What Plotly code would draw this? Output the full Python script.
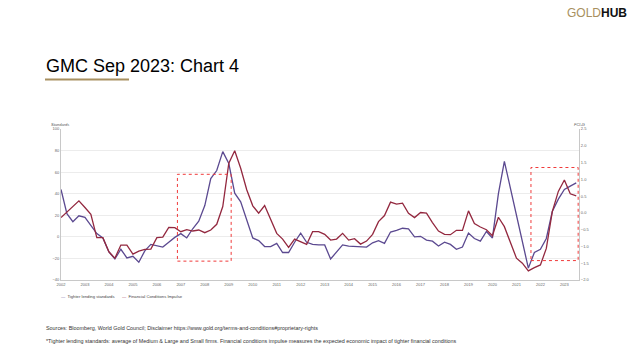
import pandas as pd
import plotly.graph_objects as go

quarters = pd.date_range("2002-01-01", periods=87, freq="QS")

tighter_lending_standards = [
    44, 21.5, 14, 19.5,
    18, 11, 3, -1,
    -14, -20.5, -11.5, -19.5,
    -18, -23.5, -13, -7,
    -8.5, -9.5, -5, -0.5,
    3, -1, 7.5, 14.5,
    29, 54, 61.5, 79,
    68, 40.5, 32.5, 15.5,
    -1, -3.5, -9, -9,
    -6, -14.5, -14.5, -5,
    3.5, -5, -7, -7.5,
    -7.5, -20.5, -14, -7.5,
    -8.5, -9, -9, -9.5,
    -5.5, -3.5, -6, 4.5,
    6, 8, 7.5, 0,
    0.5, -3, -4, -8.5,
    -5, -7, -11.5, -9.5,
    3.5, -1.5, -4, 5,
    -1, 40, 70, 45,
    19, -5, -29, -14.5,
    -11.5, -1.5, 23.5, 35,
    44, 47, 50,
]

financial_conditions_impulse = [
    -0.14, 0.02, 0.19, 0.36,
    0.16, -0.04, -0.74, -0.74,
    -1.16, -1.35, -0.96, -0.96,
    -1.23, -1.14, -1.09, -1.08,
    -0.74, -0.72, -0.43, -0.44,
    -0.56, -0.50, -0.54, -0.51,
    -0.59, -0.51, -0.34, 0.19,
    1.48, 1.85, 1.33, 0.69,
    0.21, -0.01, 0.22, -0.21,
    -0.61, -0.78, -1.03, -0.78,
    -0.86, -0.94, -0.56, -0.56,
    -0.64, -0.81, -0.78, -0.61,
    -0.81, -0.77, -0.93, -0.84,
    -0.64, -0.26, -0.08, 0.32,
    0.26, 0.29, -0.01, -0.14,
    0.01, -0.01, -0.29, -0.54,
    -0.64, -0.65, -0.52, -0.52,
    0.06, -0.32, -0.42, -0.50,
    -0.68, -0.13, -0.41, -0.86,
    -1.35, -1.50, -1.73, -1.63,
    -1.55, -1.06, 0.04, 0.64,
    0.98, 0.57, 0.51,
]

year_ticks = list(range(2002, 2024))
left_ticks = [-40, -20, 0, 20, 40, 60, 80, 100]
right_ticks = [-2.0, -1.5, -1.0, -0.5, 0.0, 0.5, 1.0, 1.5, 2.0, 2.5]

PURPLE = "#5b4990"
RED = "#93283f"
GOLD = "#a89060"
FONT = "Liberation Sans, Arial, sans-serif"

fig = go.Figure()
fig.add_trace(go.Scatter(x=quarters, y=tighter_lending_standards, mode="lines",
                         name="Tighter lending standards",
                         line=dict(color=PURPLE, width=1.3), yaxis="y"))
fig.add_trace(go.Scatter(x=quarters, y=financial_conditions_impulse, mode="lines",
                         name="Financial Conditions Impulse",
                         line=dict(color=RED, width=1.3), yaxis="y2"))

tick_font = dict(family=FONT, size=4, color="#666666")
fig.update_layout(
    width=640, height=360,
    margin=dict(l=61, r=61, t=129, b=80),
    paper_bgcolor="white", plot_bgcolor="white",
    showlegend=False,
    xaxis=dict(type="date", range=["2002-01-01", "2023-08-12"],
               tickvals=[f"{y}-01-01" for y in year_ticks],
               ticktext=[str(y) for y in year_ticks],
               tickfont=tick_font, showgrid=False, zeroline=False,
               showline=True, linecolor="#c8c8c8", linewidth=1, ticks=""),
    yaxis=dict(range=[-40, 100], tickvals=left_ticks, tickfont=tick_font,
               showgrid=True, gridcolor="#ececec", gridwidth=1, zeroline=False,
               showline=True, linecolor="#c8c8c8", linewidth=1, ticks=""),
    yaxis2=dict(range=[-2.0, 2.5], tickvals=right_ticks, tickformat=".1f",
                tickfont=tick_font, overlaying="y", side="right",
                showgrid=False, zeroline=False,
                showline=True, linecolor="#c8c8c8", linewidth=1, ticks=""),
    font=dict(family=FONT),
)

# highlight boxes
for x0, x1, y0, y1 in [("2006-11-10", "2009-02-06", -22.5, 58),
                       ("2021-08-10", "2023-07-30", -22, 64.3)]:
    fig.add_shape(type="rect", xref="x", yref="y", x0=x0, x1=x1, y0=y0, y1=y1,
                  line=dict(color="#f03a3a", width=1, dash="dot"),
                  fillcolor="rgba(0,0,0,0)")

def px(sx):
    return (sx - 61) / 518.0

def py(sy):
    return (280 - sy) / 151.0

annotations = [
    dict(text="GMC Sep 2023: Chart 4", x=px(44), y=py(66), xanchor="left", yanchor="middle",
         font=dict(family=FONT, size=18, color="#000000")),
    dict(text=f'<span style="color:{GOLD}">GOLD</span><b>HUB</b>', x=px(629), y=py(13),
         xanchor="right", yanchor="middle", font=dict(family=FONT, size=12, color="#111111")),
    dict(text="<i>Standards</i>", x=px(49), y=py(124.5), xanchor="left", yanchor="middle",
         font=dict(family=FONT, size=4, color="#555555")),
    dict(text="<i>FCI-G</i>", x=px(587), y=py(124.5), xanchor="right", yanchor="middle",
         font=dict(family=FONT, size=4, color="#555555")),
    dict(text=f'<span style="color:{PURPLE}">—</span>  Tighter lending standards', x=px(59), y=py(296),
         xanchor="left", yanchor="middle", font=dict(family=FONT, size=4.2, color="#444444")),
    dict(text=f'<span style="color:{RED}">—</span>  Financial Conditions Impulse', x=px(120), y=py(296),
         xanchor="left", yanchor="middle", font=dict(family=FONT, size=4.2, color="#444444")),
    dict(text="Sources: Bloomberg, World Gold Council; Disclaimer https://www.gold.org/terms-and-conditions#proprietary-rights",
         x=px(44), y=py(327.5), xanchor="left", yanchor="middle",
         font=dict(family=FONT, size=5.4, color="#333333")),
    dict(text="*Tighter lending standards: average of Medium & Large and Small firms. Financial conditions impulse measures the expected economic impact of tighter financial conditions",
         x=px(44), y=py(340.5), xanchor="left", yanchor="middle",
         font=dict(family=FONT, size=5.4, color="#333333")),
]
for a in annotations:
    a.update(xref="paper", yref="paper", showarrow=False)
    fig.add_annotation(**a)

fig.add_shape(type="line", xref="paper", yref="paper", x0=px(45), x1=px(129), y0=py(79.5), y1=py(79.5),
              line=dict(color=GOLD, width=2))

fig.write_html("out.html",
               config={"displayModeBar": False},
               post_script="document.body.style.margin='0';document.body.style.overflow='hidden';")
